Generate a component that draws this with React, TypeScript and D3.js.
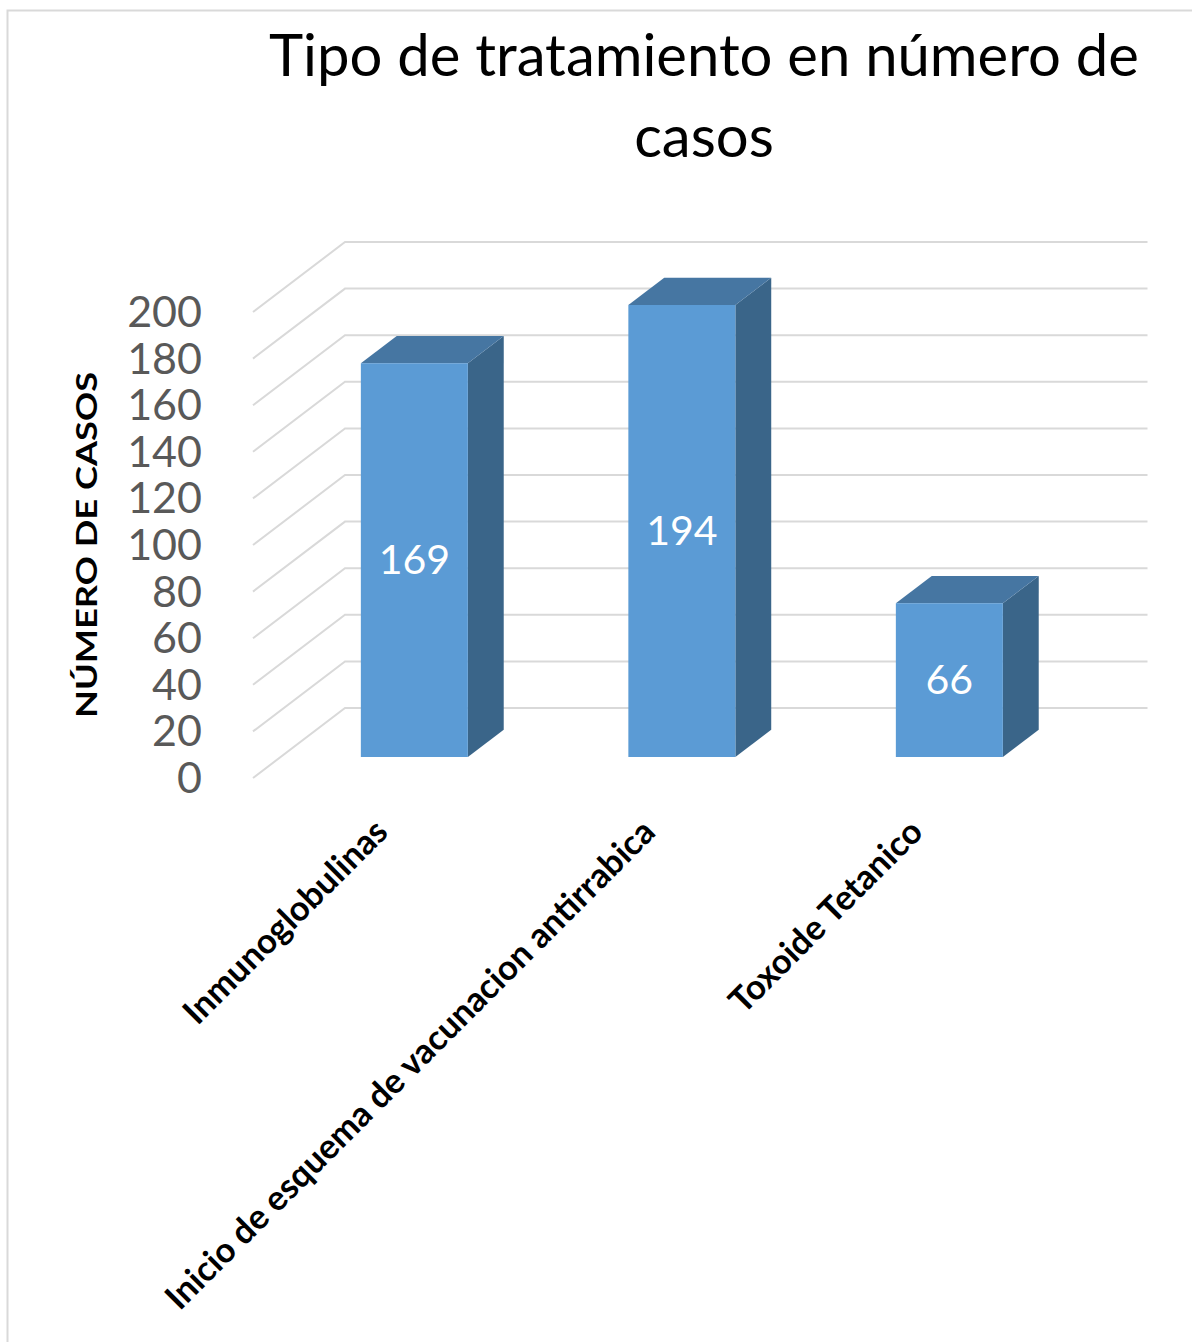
import React from "react";
import * as d3 from "d3";

const categories = ["Inmunoglobulinas", "Inicio de esquema de vacunacion antirrabica", "Toxoide Tetanico"];
const values = [169, 194, 66];
const yTicks = [0, 20, 40, 60, 80, 100, 120, 140, 160, 180, 200];
const titleLines = ["Tipo de tratamiento en número de", "casos"];
const yAxisTitle = "NÚMERO DE CASOS";

const W = 1192;
const H = 1342;
const FONT = "Lato, 'Open Sans', 'Noto Sans', sans-serif";

export default function App() {
  const x0 = 253;
  const x1 = 1055.5;
  const depth = { dx: 92, dy: -70 };
  const barD0 = 0.3;
  const barD1 = 0.69;

  const y = d3.scaleLinear().domain([0, 200]).range([778, 312]);
  const x = d3.scaleBand<string>().domain(categories).range([x0, x1]).paddingInner(0.6).paddingOuter(0.3);
  const band = d3.scaleBand<string>().domain(categories).range([x0, x1]);

  const fdx = depth.dx * barD0;
  const fdy = depth.dy * barD0;
  const bdx = depth.dx * (barD1 - barD0);
  const bdy = depth.dy * (barD1 - barD0);

  const grid = "#D9D9D9";
  const front = "#5B9BD5";
  const top = "#4676A2";
  const side = "#3A6589";

  return (
    <svg width={W} height={H} style={{ position: "absolute", left: 0, top: 0, background: "#fff" }} fontFamily={FONT}>
      <rect x={7.5} y={10.5} width={W + 20} height={H + 20} fill="#fff" stroke="#D9D9D9" strokeWidth={2} />
      {/* title */}
      {titleLines.map((t, i) => (
        <text key={i} x={704} y={76 + i * 81} textAnchor="middle" fontSize={58} fill="#000">
          {t}
        </text>
      ))}
      {/* gridlines */}
      {yTicks.map((t) => {
        const yf = y(t);
        const path = d3.path();
        path.moveTo(x0, yf);
        path.lineTo(x0 + depth.dx, yf + depth.dy);
        path.lineTo(x1 + depth.dx, yf + depth.dy);
        return <path key={t} d={path.toString()} fill="none" stroke={grid} strokeWidth={2} />;
      })}
      {/* y labels */}
      {yTicks.map((t) => (
        <text key={"l" + t} x={202} y={y(t)} dy="0.35em" textAnchor="end" fontSize={43} fill="#595959">
          {t}
        </text>
      ))}
      <text
        transform={`translate(97,545) rotate(-90)`}
        textAnchor="middle"
        fontSize={29}
        fontWeight="bold"
        fill="#000"
        textLength={346}
        lengthAdjust="spacingAndGlyphs"
      >
        {yAxisTitle}
      </text>
      {/* bars */}
      {categories.map((c, i) => {
        const v = values[i];
        const bx = (x(c) as number) + fdx;
        const bw = x.bandwidth();
        const yb = y(0) + fdy;
        const yt = y(v) + fdy;
        const sidePts = [
          [bx + bw, yt],
          [bx + bw + bdx, yt + bdy],
          [bx + bw + bdx, yb + bdy],
          [bx + bw, yb],
        ];
        const topPts = [
          [bx, yt],
          [bx + bdx, yt + bdy],
          [bx + bw + bdx, yt + bdy],
          [bx + bw, yt],
        ];
        return (
          <g key={c}>
            <polygon points={sidePts.map((p) => p.join(",")).join(" ")} fill={side} />
            <polygon points={topPts.map((p) => p.join(",")).join(" ")} fill={top} />
            <rect x={bx} y={yt} width={bw} height={yb - yt} fill={front} />
            <text x={bx + bw / 2} y={(yt + yb) / 2} dy="0.35em" textAnchor="middle" fontSize={41} fill="#fff">
              {v}
            </text>
          </g>
        );
      })}
      {/* category labels */}
      {categories.map((c) => {
        const cx = (band(c) as number) + band.bandwidth() / 2;
        return (
          <text
            key={"c" + c}
            transform={`translate(${cx + 3},834) rotate(-45)`}
            textAnchor="end"
            fontSize={34.5}
            fontWeight="bold"
            fill="#000"
          >
            {c}
          </text>
        );
      })}
    </svg>
  );
}
